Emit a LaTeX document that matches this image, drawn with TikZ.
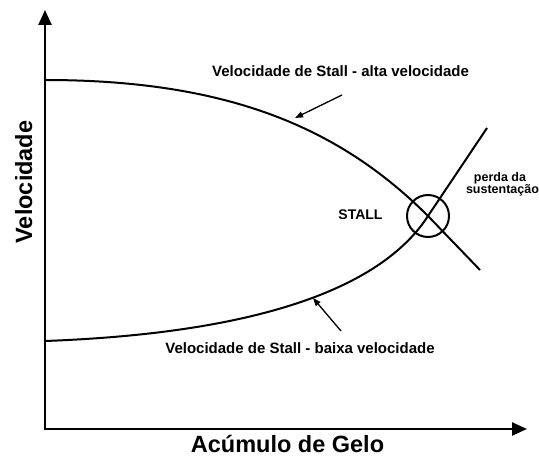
\documentclass[tikz,border=0pt]{standalone}
\usepackage{fontspec}
\setmainfont{Liberation Sans}
\usetikzlibrary{arrows.meta}
\begin{document}
\begin{tikzpicture}[x=1bp,y=-1bp,
  axisline/.style={line width=2.4bp,-{Triangle[length=15bp,width=13bp]}},
  curveline/.style={line width=2bp, line join=round},
  pointer/.style={line width=1.3bp,-{Triangle[length=8bp,width=6bp]}},
  lbl/.style={font=\fontsize{15bp}{18bp}\selectfont\bfseries, inner sep=0pt, anchor=base},
  axlbl/.style={font=\fontsize{23.5bp}{28bp}\selectfont\bfseries, inner sep=0pt, anchor=base}]
\useasboundingbox (0,0) rectangle (539,457);
% axes
\coordinate (O) at (45,429);
\coordinate (Oc) at (43.8,429);
\coordinate (ytip) at (45,10);
\coordinate (xtip) at (527,429);
\draw[axisline] (O) -- (ytip);
\draw[axisline] (Oc) -- (xtip);
% stall circle
\node[circle, draw, line width=2bp, minimum size=42bp, inner sep=0pt] (stall) at (428,216) {};
% curves
\coordinate (u0) at (45,80);
\coordinate (u1) at (480,270);
\coordinate (l0) at (45,341);
\coordinate (l1) at (487,128);
\draw[curveline] (u0) .. controls (225,80) and (338,126) .. (stall.center) -- (u1);
\draw[curveline] (l0) .. controls (290,332) and (390,275) .. (stall.center) -- (l1);
% pointers
\coordinate (p1s) at (342,95);
\coordinate (p1e) at (295,118);
\coordinate (p2s) at (341,331);
\coordinate (p2e) at (313,298);
\draw[pointer] (p1s) -- (p1e);
\draw[pointer] (p2s) -- (p2e);
% labels
\node[lbl] (alta) at (340.5,77) {Velocidade de Stall - alta velocidade};
\node[lbl] (baixa) at (300,353) {Velocidade de Stall - baixa velocidade};
\node[lbl, font=\fontsize{14bp}{17bp}\selectfont\bfseries] (stalltxt) at (360.5,220) {STALL};
\node[lbl, font=\fontsize{12.5bp}{15bp}\selectfont\bfseries] (perda) at (500,182) {perda da};
\node[lbl, font=\fontsize{12.5bp}{15bp}\selectfont\bfseries] (sust) at (502.5,193.5) {sustentação};
\node[axlbl] (xlab) at (287.5,452) {Acúmulo de Gelo};
\node[axlbl, rotate=90] (ylab) at (32,182) {Velocidade};
\end{tikzpicture}
\end{document}
